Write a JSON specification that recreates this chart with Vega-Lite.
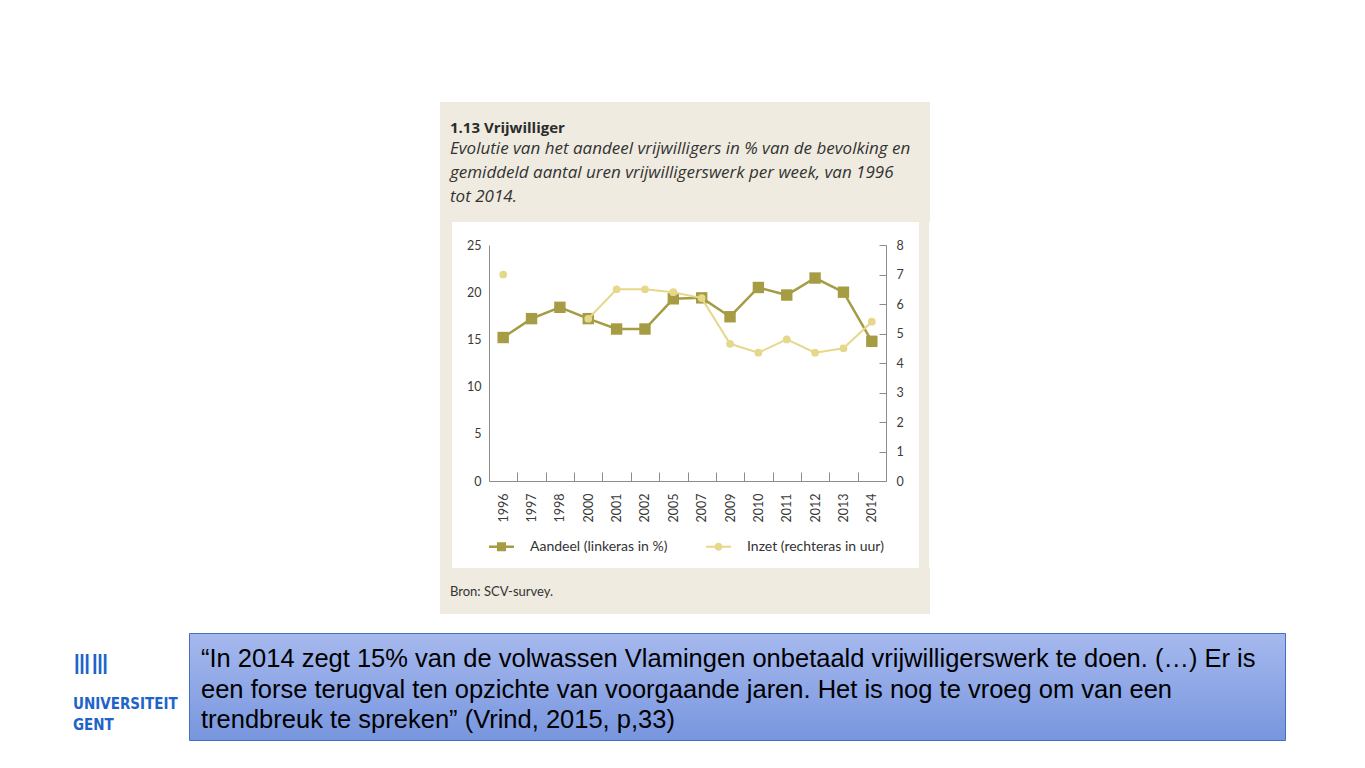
{
  "$schema": "https://vega.github.io/schema/vega-lite/v6.json",
  "background": "white",
  "padding": {"left": 73, "top": 102, "right": 0, "bottom": 0},
  "config": {
    "view": {"stroke": null},
    "font": "Lato",
    "axis": {"labelFont": "Lato", "labelFontSize": 12, "labelColor": "#3a3a3a", "domainColor": "#8c8c8c", "tickColor": "#8c8c8c", "grid": false, "title": null}
  },
  "datasets": {
    "vrijwilliger": [
      {"jaar": "1996", "aandeel": 15.2, "inzet": 7.0},
      {"jaar": "1997", "aandeel": 17.2, "inzet": null},
      {"jaar": "1998", "aandeel": 18.4, "inzet": null},
      {"jaar": "2000", "aandeel": 17.2, "inzet": 5.5},
      {"jaar": "2001", "aandeel": 16.1, "inzet": 6.5},
      {"jaar": "2002", "aandeel": 16.1, "inzet": 6.5},
      {"jaar": "2005", "aandeel": 19.3, "inzet": 6.4},
      {"jaar": "2007", "aandeel": 19.4, "inzet": 6.2},
      {"jaar": "2009", "aandeel": 17.4, "inzet": 4.65},
      {"jaar": "2010", "aandeel": 20.5, "inzet": 4.35},
      {"jaar": "2011", "aandeel": 19.7, "inzet": 4.8},
      {"jaar": "2012", "aandeel": 21.5, "inzet": 4.35},
      {"jaar": "2013", "aandeel": 20.0, "inzet": 4.5},
      {"jaar": "2014", "aandeel": 14.8, "inzet": 5.4}
    ],
    "leeg": [{"t": ""}]
  },
  "resolve": {"scale": {"color": "independent"}, "legend": {"color": "independent"}},
  "vconcat": [
    {
      "resolve": {"scale": {"color": "independent"}, "legend": {"color": "independent"}},
      "hconcat": [
        {"width": 1, "height": 20, "data": {"name": "leeg"}, "mark": {"type": "text", "text": ""}},
        {
          "resolve": {"scale": {"color": "independent"}, "legend": {"color": "independent"}},
          "vconcat": [
            {
              "width": 490, "height": 120,
              "view": {"fill": "#efebe0", "stroke": null},
              "data": {"name": "leeg"},
              "mark": {"type": "text", "text": ""},
              "title": {
                "text": "1.13 Vrijwilliger",
                "subtitle": ["Evolutie van het aandeel vrijwilligers in % van de bevolking en", "gemiddeld aantal uren vrijwilligerswerk per week, van 1996", "tot 2014."],
                "anchor": "start", "frame": "group", "offset": -103, "dx": 10,
                "font": "Open Sans", "fontSize": 15, "fontWeight": "bold", "color": "#2b2b2b",
                "subtitleFont": "Open Sans", "subtitleFontSize": 17, "subtitleFontStyle": "italic", "subtitleColor": "#333333",
                "subtitleLineHeight": 24.2, "subtitlePadding": 5
              }
            },
            {
              "resolve": {"scale": {"color": "independent"}, "legend": {"color": "independent"}},
              "hconcat": [
                {"width": 12, "height": 346, "view": {"fill": "#efebe0", "stroke": null}, "data": {"name": "leeg"}, "mark": {"type": "text", "text": ""}},
                {
                  "resolve": {"scale": {"color": "independent"}, "legend": {"color": "independent"}},
                  "vconcat": [
                    {"width": 1, "height": 17, "data": {"name": "leeg"}, "mark": {"type": "text", "text": "", "fontSize": 1}},
                    {
                      "width": 397, "height": 236,
                      "data": {"name": "vrijwilliger"},
                      "encoding": {
                        "x": {"field": "jaar", "type": "ordinal", "bandPosition": 0.5,
                          "scale": {"type": "band", "paddingInner": 0, "paddingOuter": 0},
                          "axis": {"labelAngle": -90, "tickBand": "extent", "tickSize": -9, "labelPadding": 21, "labelFontSize": 12.5}}
                      },
                      "layer": [
                        {
                          "encoding": {
                            "y": {"field": "aandeel", "type": "quantitative", "scale": {"domain": [0, 25], "nice": false},
                              "axis": {"orient": "left", "values": [0, 5, 10, 15, 20, 25], "ticks": false, "labelPadding": 8, "labelFontSize": 12.5, "minExtent": 37, "maxExtent": 37}},
                            "color": {"datum": "Aandeel (linkeras in %)", "type": "nominal",
                              "scale": {"domain": ["Aandeel (linkeras in %)", "Inzet (rechteras in uur)"], "range": ["#a59c43", "#e6d88b"]},
                              "legend": {
                                "orient": "bottom", "direction": "horizontal", "title": null, "offset": 12,
                                "labelFont": "Lato", "labelFontSize": 14, "labelColor": "#333333",
                                "symbolSize": 625, "symbolType": "M-1,-0.1H1V0.1H-1Z M-0.36,-0.36H0.36V0.36H-0.36Z", "labelOffset": 16, "columnPadding": 38,
                                "encode": {"symbols": {"update": {
                                  "shape": {"signal": "indexof(datum.value, 'Aandeel') >= 0 ? 'M-1,-0.1H1V0.1H-1Z M-0.36,-0.36H0.36V0.36H-0.36Z' : 'M-1,-0.08H1V0.08H-1Z M0.32,0A0.32,0.32 0 1,1 -0.32,0A0.32,0.32 0 1,1 0.32,0Z'"},
                                  "fill": {"signal": "indexof(datum.value, 'Aandeel') >= 0 ? '#a59c43' : '#e6d88b'"},
                                  "strokeWidth": {"value": 0}
                                }}}
                              }}
                          },
                          "layer": [
                            {"mark": {"type": "line", "strokeWidth": 2.5}},
                            {"mark": {"type": "point", "shape": "square", "filled": true, "size": 130, "opacity": 1}}
                          ]
                        },
                        {
                          "encoding": {
                            "y": {"field": "inzet", "type": "quantitative", "scale": {"domain": [0, 8], "nice": false},
                              "axis": {"orient": "right", "values": [0, 1, 2, 3, 4, 5, 6, 7, 8], "tickSize": -7, "labelPadding": 17, "labelFontSize": 12.5, "minExtent": 33, "maxExtent": 33}},
                            "color": {"datum": "Inzet (rechteras in uur)", "type": "nominal"}
                          },
                          "layer": [
                            {"mark": {"type": "line", "strokeWidth": 2, "invalid": "break-paths-filter-domains"}},
                            {"mark": {"type": "point", "shape": "circle", "filled": true, "size": 60, "opacity": 1}}
                          ]
                        }
                      ],
                      "resolve": {"scale": {"y": "independent"}}
                    }
                  ],
                  "spacing": 0
                },
                {"width": 10, "height": 346, "view": {"fill": "#efebe0", "stroke": null}, "data": {"name": "leeg"}, "mark": {"type": "text", "text": ""}}
              ],
              "spacing": 0
            },
            {
              "width": 490, "height": 46,
              "view": {"fill": "#efebe0", "stroke": null},
              "data": {"name": "leeg"},
              "mark": {"type": "text", "text": ""},
              "title": {"text": "Bron: SCV-survey.", "anchor": "start", "frame": "group", "offset": -31, "dx": 10,
                "font": "Lato", "fontSize": 13, "fontWeight": "normal", "color": "#333333"}
            }
          ],
          "spacing": 0
        }
      ],
      "spacing": 366
    },
    {
      "hconcat": [
        {
          "width": 107, "height": 107,
          "data": {"name": "leeg"},
          "mark": {"type": "text", "text": ""},
          "title": {"text": "ⅢⅢ", "subtitle": ["UNIVERSITEIT", "GENT"], "anchor": "start", "frame": "group", "offset": -100,
            "font": "DejaVu Sans", "fontSize": 26, "fontWeight": "normal", "color": "#1e64c8",
            "subtitleFont": "DejaVu Sans Condensed", "subtitleFontSize": 15, "subtitleFontWeight": "bold",
            "subtitleColor": "#1e64c8", "subtitleLineHeight": 21, "subtitlePadding": 18}
        },
        {
          "width": 1096, "height": 107,
          "view": {"fill": {"gradient": "linear", "x1": 0, "y1": 0, "x2": 0, "y2": 1, "stops": [{"offset": 0, "color": "#a6b9ee"}, {"offset": 1, "color": "#7896de"}]}, "stroke": "#4a6cc0", "strokeWidth": 1},
          "data": {"name": "leeg"},
          "mark": {"type": "text", "text": ""},
          "title": {
            "text": ["“In 2014 zegt 15% van de volwassen Vlamingen onbetaald vrijwilligerswerk te doen. (…) Er is", "een forse terugval ten opzichte van voorgaande jaren. Het is nog te vroeg om van een", "trendbreuk te spreken” (Vrind, 2015, p,33)"],
            "anchor": "start", "frame": "group", "offset": -101, "dx": 12,
            "font": "Liberation Sans", "fontSize": 25.5, "fontWeight": "normal", "color": "#000000", "lineHeight": 30.6
          }
        }
      ],
      "spacing": 8
    }
  ],
  "spacing": 18
}
